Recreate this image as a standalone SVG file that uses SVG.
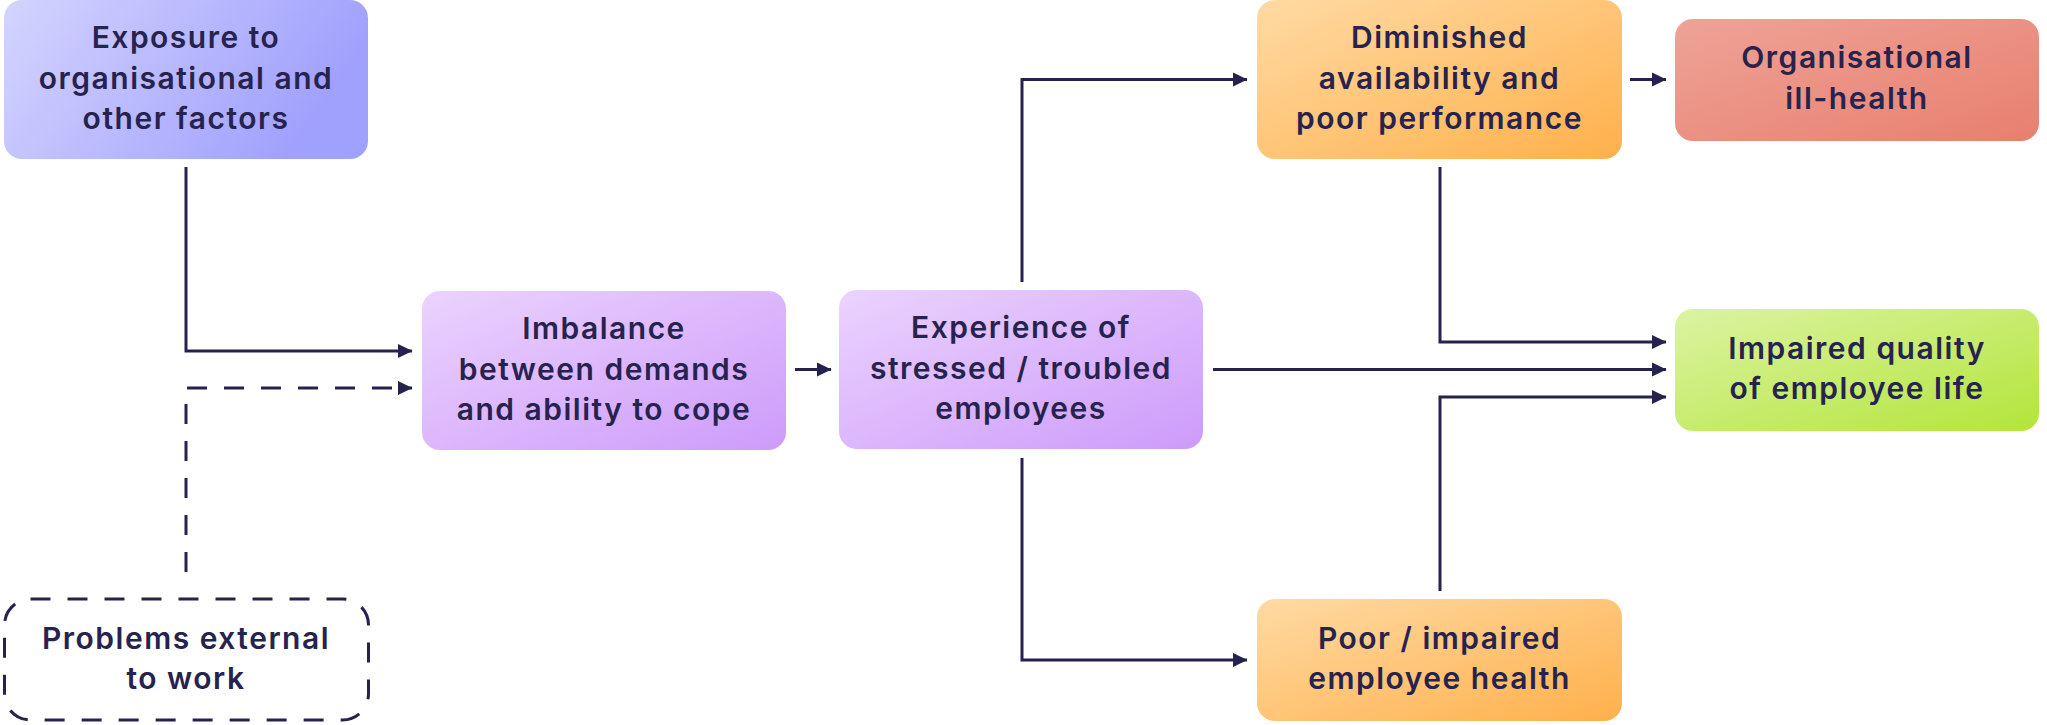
<svg xmlns="http://www.w3.org/2000/svg" width="2047" height="725" viewBox="0 0 2047 725">
  <defs>
    <linearGradient id="gBlue" x1="0" y1="0" x2="1" y2="0.3">
      <stop offset="0" stop-color="#d4d4fe"/>
      <stop offset="1" stop-color="#a0a0fd"/>
    </linearGradient>
    <linearGradient id="gPurple" x1="0" y1="0" x2="1" y2="1">
      <stop offset="0" stop-color="#ebd3fe"/>
      <stop offset="1" stop-color="#cd9bfa"/>
    </linearGradient>
    <linearGradient id="gOrange" x1="0" y1="0" x2="1" y2="1">
      <stop offset="0" stop-color="#ffdaa4"/>
      <stop offset="1" stop-color="#ffb04b"/>
    </linearGradient>
    <linearGradient id="gRed" x1="0" y1="0" x2="1" y2="1">
      <stop offset="0" stop-color="#eea397"/>
      <stop offset="1" stop-color="#e87f6f"/>
    </linearGradient>
    <linearGradient id="gGreen" x1="0" y1="0" x2="1" y2="1">
      <stop offset="0" stop-color="#dcf3a3"/>
      <stop offset="1" stop-color="#b3e53a"/>
    </linearGradient>
    <marker id="arr" markerUnits="userSpaceOnUse" markerWidth="16" markerHeight="16" viewBox="0 0 16 16" refX="14" refY="8" orient="auto">
      <path d="M0,1 L14.5,8 L0,15 Z" fill="#26224f"/>
    </marker>
  </defs>
  <style>
    .box { stroke: none; }
    .lbl { font-family: Inter, "Noto Sans", "Liberation Sans", sans-serif; font-size: 30px; font-weight: 600; fill: #27234f; text-anchor: middle; letter-spacing: 1.5px; }
    .conn { fill: none; stroke: #26224f; stroke-width: 3; marker-end: url(#arr); }
    .dash { stroke-dasharray: 20 17; }
  </style>

  <g id="connectors">
    <path class="conn" d="M186,167 V351 H412"/>
    <path class="conn dash" d="M186,572 V388 H412"/>
    <path class="conn" d="M795,369.5 H831"/>
    <path class="conn" d="M1022,282 V79.5 H1247"/>
    <path class="conn" d="M1022,458 V660 H1247"/>
    <path class="conn" d="M1630,79.5 H1666"/>
    <path class="conn" d="M1440,167 V342 H1666"/>
    <path class="conn" d="M1213,369.5 H1666"/>
    <path class="conn" d="M1440,591 V397 H1666"/>
  </g>

  <g id="exposure">
    <rect class="box" x="4" y="0" width="364" height="159" rx="18" fill="url(#gBlue)"/>
    <text class="lbl"><tspan x="186" y="48">Exposure to</tspan><tspan x="186" y="89">organisational and</tspan><tspan x="186" y="129">other factors</tspan></text>
  </g>

  <g id="problems">
    <rect x="4.5" y="599" width="364" height="121" rx="26" fill="none" stroke="#26224f" stroke-width="3" stroke-dasharray="20 17"/>
    <text class="lbl"><tspan x="186" y="649">Problems external</tspan><tspan x="186" y="689">to work</tspan></text>
  </g>

  <g id="imbalance">
    <rect class="box" x="422" y="291" width="364" height="159" rx="18" fill="url(#gPurple)"/>
    <text class="lbl"><tspan x="604" y="339">Imbalance</tspan><tspan x="604" y="380">between demands</tspan><tspan x="604" y="420">and ability to cope</tspan></text>
  </g>

  <g id="experience">
    <rect class="box" x="839" y="290" width="364" height="159" rx="18" fill="url(#gPurple)"/>
    <text class="lbl"><tspan x="1021" y="338">Experience of</tspan><tspan x="1021" y="379">stressed / troubled</tspan><tspan x="1021" y="419">employees</tspan></text>
  </g>

  <g id="diminished">
    <rect class="box" x="1257" y="0" width="365" height="159" rx="18" fill="url(#gOrange)"/>
    <text class="lbl"><tspan x="1439.5" y="48">Diminished</tspan><tspan x="1439.5" y="89">availability and</tspan><tspan x="1439.5" y="129">poor performance</tspan></text>
  </g>

  <g id="organisational">
    <rect class="box" x="1675" y="19" width="364" height="122" rx="18" fill="url(#gRed)"/>
    <text class="lbl"><tspan x="1857" y="68">Organisational</tspan><tspan x="1857" y="109">ill-health</tspan></text>
  </g>

  <g id="impaired">
    <rect class="box" x="1675" y="309" width="364" height="122" rx="18" fill="url(#gGreen)"/>
    <text class="lbl"><tspan x="1857" y="359">Impaired quality</tspan><tspan x="1857" y="399">of employee life</tspan></text>
  </g>

  <g id="poor">
    <rect class="box" x="1257" y="599" width="365" height="122" rx="18" fill="url(#gOrange)"/>
    <text class="lbl"><tspan x="1439.5" y="649">Poor / impaired</tspan><tspan x="1439.5" y="689">employee health</tspan></text>
  </g>
</svg>
